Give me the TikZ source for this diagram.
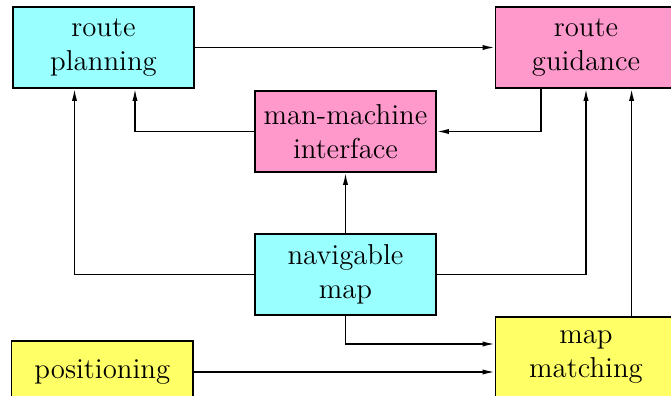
\documentclass[tikz,border=0pt]{standalone}
\usetikzlibrary{arrows.meta}
\definecolor{cyanbox}{HTML}{99FFFF}
\definecolor{pinkbox}{HTML}{FF99CC}
\definecolor{yellowbox}{HTML}{FFFF66}
\tikzset{
  box/.style={draw, line width=0.85pt, minimum width=90.5pt, minimum height=40.5pt,
    align=center, inner sep=0pt, font=\fontsize{14.4}{17}\selectfont},
  arr/.style={line width=0.7pt, -{Latex[length=6pt,width=2.6pt]}},
}
\begin{document}
\begin{tikzpicture}[x=0.5pt,y=-0.5pt]
\useasboundingbox (0,0) rectangle (671,396);
\clip (0,0) rectangle (671,396);
\node[box, fill=cyanbox] (rp) at (103.5,47.5) {route\\planning};
\node[box, fill=pinkbox] (rg) at (586,47.5) {route\\guidance};
\node[box, fill=pinkbox] (mmi) at (345.5,131.5) {man-machine\\interface};
\node[box, fill=cyanbox] (nm) at (345.5,274.5) {navigable\\map};
\node[box, fill=yellowbox] (mm) at (586,357.5) {map\\matching};
\node[box, fill=yellowbox, minimum width=90.75pt, minimum height=31pt] (pos) at (102.3,372) {positioning};
\draw[arr] (rp.east) -- (rg.west);
\draw[arr] (mmi.west) -| ([xshift=15.75pt]rp.south);
\draw[arr] ([xshift=-22.5pt]rg.south) |- (mmi.east);
\draw[arr] (nm.west) -| ([xshift=-14.5pt]rp.south);
\draw[arr] (nm.north) -- (mmi.south);
\draw[arr] (nm.east) -| (rg.south);
\draw[arr] ([xshift=22.8pt]mm.north) -- ([xshift=22.8pt]rg.south);
\draw[arr] (nm.south) |- ([yshift=6.75pt]mm.west);
\draw[arr] (pos.east) -- (pos.east -| mm.west);
\end{tikzpicture}
\end{document}
